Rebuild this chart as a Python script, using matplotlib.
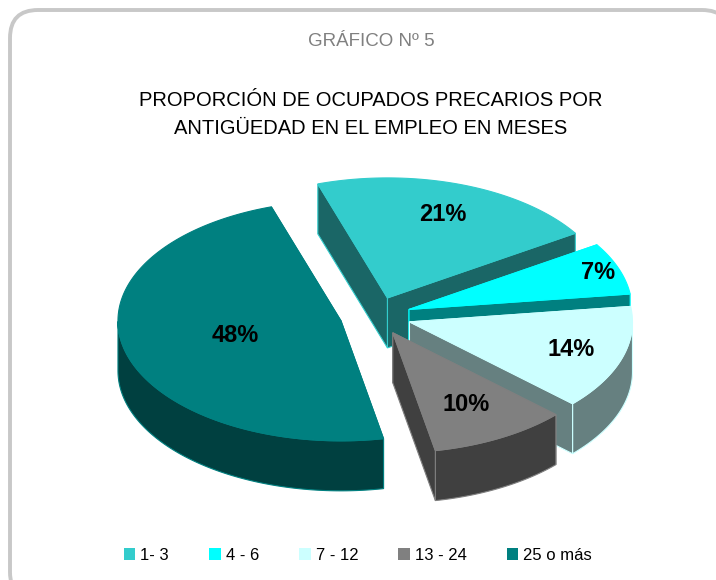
import numpy as np
import matplotlib.pyplot as plt
from matplotlib.patches import Polygon, FancyBboxPatch, Patch

plt.rcParams['font.family'] = ['Liberation Sans', 'DejaVu Sans']

# data
categories = ['1- 3', '4 - 6', '7 - 12', '13 - 24', '25 o más']
shares = [21, 7, 14, 10, 48]
labels = ['21%', '7%', '14%', '10%', '48%']
top_colors = ['#33CCCC', '#00FFFF', '#CCFFFF', '#808080', '#008080']

# pie geometry (in pixel-like data units)
cx, cy = 375.5, 316
rx, ry = 223, 120
depth = 50
explode = 0.16
start = 108.2  # degrees, slices run clockwise
label_r = [0.74, 0.9, 0.76, 0.68, 0.49]

fig = plt.figure(figsize=(7.16, 5.8), dpi=100)
ax = fig.add_axes([0, 0, 1, 1])
ax.set_xlim(0, 716)
ax.set_ylim(580, 0)
ax.axis('off')

frame = FancyBboxPatch((10, 10), 720, 590, boxstyle='round,pad=0,rounding_size=28',
                       fc='white', ec='#C8C8C8', lw=2.8, zorder=0)
ax.add_patch(frame)

ax.text(371, 42, 'GRÁFICO Nº 5', ha='center', va='center', fontsize=13.5, color='#808080')
ax.text(371, 115, 'PROPORCIÓN DE OCUPADOS PRECARIOS POR\nANTIGÜEDAD EN EL EMPLEO EN MESES',
        ha='center', va='center', fontsize=14.5, color='black', linespacing=1.6)


def pt(t, ox, oy, r=1.0, dz=0.0):
    return (cx + ox + r * rx * np.cos(t), cy + oy - r * ry * np.sin(t) + dz)


def shade(c, f=0.5):
    c = np.array(plt.matplotlib.colors.to_rgb(c))
    return tuple(c * f)


total = sum(shares)
slices = []
a0 = np.radians(start)
for i, s in enumerate(shares):
    span = np.radians(360 * s / total)
    a1 = a0 - span
    mid = (a0 + a1) / 2
    ox = explode * rx * np.cos(mid)
    oy = -explode * ry * np.sin(mid)
    slices.append((i, a0, a1, mid, ox, oy))
    a0 = a1

# draw back slices first
order = sorted(slices, key=lambda s: pt(s[3], s[4], s[5])[1])
z = 1
for i, a0, a1, mid, ox, oy in order:
    top = top_colors[i]
    side = shade(top)
    edge = top
    apex = (cx + ox, cy + oy)
    apex_b = (cx + ox, cy + oy + depth)
    faces = []
    # radial faces, visible when the outward normal points at the viewer
    for ang, sign in ((a0, 1), (a1, -1)):
        p = pt(ang, ox, oy)
        pb = pt(ang, ox, oy, dz=depth)
        nang = ang + sign * np.pi / 2
        visible = -np.sin(nang) > 0
        faces.append((visible, [apex, p, pb, apex_b]))
    for vis, poly in faces:
        if not vis:
            ax.add_patch(Polygon(poly, closed=True, fc=side, ec=edge, lw=0.8, zorder=z))
    z += 1
    # outer wall, front part only
    ts = np.linspace(a0, a1, 200)
    front = ts[np.sin(ts) < 0]
    if len(front) > 1:
        upper = [pt(t, ox, oy) for t in front]
        lower = [pt(t, ox, oy, dz=depth) for t in front[::-1]]
        ax.add_patch(Polygon(upper + lower, closed=True, fc=side, ec=edge, lw=0.8, zorder=z))
    for vis, poly in faces:
        if vis:
            ax.add_patch(Polygon(poly, closed=True, fc=side, ec=edge, lw=0.8, zorder=z))
    z += 1
    arc = [pt(t, ox, oy) for t in ts]
    ax.add_patch(Polygon([apex] + arc, closed=True, fc=top, ec=edge, lw=0.8, zorder=z))
    z += 1

# percentage labels
for i, a0, a1, mid, ox, oy in slices:
    lx, ly = pt(mid, 0, 0, r=explode + label_r[i])
    ax.text(lx, ly, labels[i], ha='center', va='center', fontsize=17,
            fontweight='bold', color='black', zorder=50)

handles = [Patch(fc=c, ec='none') for c in top_colors]
ax.legend(handles, categories, loc='center', bbox_to_anchor=(358 / 716, 1 - 555 / 580),
          ncol=5, frameon=False, fontsize=12, handlelength=0.7, handleheight=0.7,
          handletextpad=0.3, columnspacing=2.4)

fig.savefig('out.png', dpi=100)
